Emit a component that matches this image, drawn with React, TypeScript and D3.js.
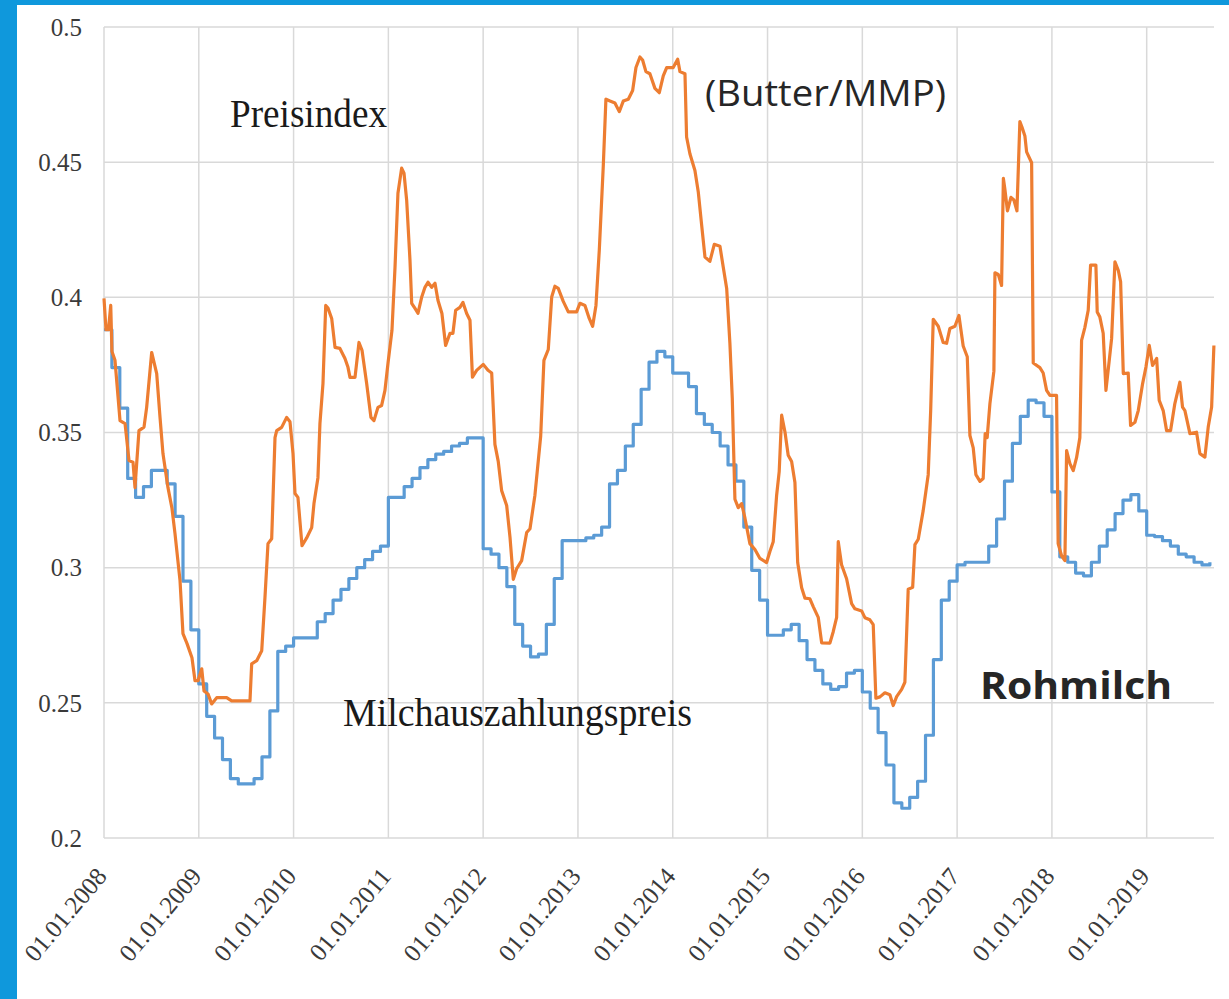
import React, { useEffect, useRef } from 'react'
import * as d3 from 'd3'

// Jahres-Ticks (01.01.) und Werteachse
const yearTicks = [2008, 2009, 2010, 2011, 2012, 2013, 2014, 2015, 2016, 2017, 2018, 2019]
const valueTicks = [0.2, 0.25, 0.3, 0.35, 0.4, 0.45, 0.5]

// Milchauszahlungspreis, monatlich ab Jan 2008
const milchpreis = [
    0.388, 0.374, 0.359, 0.333, 0.326, 0.330, 0.336, 0.336, 0.331, 0.319, 0.295, 0.277,
    0.257, 0.245, 0.237, 0.229, 0.222, 0.220, 0.220, 0.222, 0.230, 0.247, 0.269, 0.271,
    0.274, 0.274, 0.274, 0.280, 0.283, 0.288, 0.292, 0.296, 0.300, 0.303, 0.306, 0.308,
    0.326, 0.326, 0.330, 0.333, 0.337, 0.340, 0.342, 0.343, 0.345, 0.346, 0.348, 0.348,
    0.307, 0.305, 0.300, 0.293, 0.279, 0.271, 0.267, 0.268, 0.279, 0.296, 0.310, 0.310,
    0.310, 0.311, 0.312, 0.315, 0.331, 0.336, 0.345, 0.353, 0.366, 0.376, 0.380, 0.378,
    0.372, 0.372, 0.367, 0.357, 0.353, 0.350, 0.345, 0.338, 0.332, 0.315, 0.299, 0.288,
    0.275, 0.275, 0.277, 0.279, 0.273, 0.266, 0.262, 0.257, 0.255, 0.256, 0.261, 0.262,
    0.254, 0.248, 0.239, 0.227, 0.213, 0.211, 0.215, 0.221, 0.238, 0.266, 0.288, 0.295,
    0.301, 0.302, 0.302, 0.302, 0.308, 0.318, 0.332, 0.346, 0.356, 0.362, 0.361, 0.356,
    0.328, 0.304, 0.302, 0.298, 0.297, 0.302, 0.308, 0.314, 0.320, 0.325, 0.327, 0.321,
    0.312, 0.3115, 0.310, 0.308, 0.305, 0.304, 0.302, 0.301, 0.302,
]

// Preisindex (Butter/MMP): Zeitpunkte als Dezimaljahr und Werte
const preisindexZeit = [
    2008.000, 2008.021, 2008.047, 2008.071, 2008.084, 2008.116, 2008.169, 2008.222, 2008.264, 2008.306,
    2008.327, 2008.369, 2008.422, 2008.450, 2008.503, 2008.556, 2008.591, 2008.622, 2008.675, 2008.717,
    2008.749, 2008.802, 2008.833, 2008.876, 2008.928, 2008.960, 2008.992, 2009.031, 2009.055, 2009.097,
    2009.136, 2009.189, 2009.294, 2009.347, 2009.540, 2009.558, 2009.611, 2009.664, 2009.698, 2009.730,
    2009.769, 2009.804, 2009.822, 2009.874, 2009.927, 2009.962, 2009.994, 2010.015, 2010.046, 2010.089,
    2010.138, 2010.191, 2010.215, 2010.257, 2010.278, 2010.310, 2010.339, 2010.363, 2010.402, 2010.437,
    2010.489, 2010.542, 2010.574, 2010.595, 2010.648, 2010.690, 2010.722, 2010.771, 2010.816, 2010.848,
    2010.890, 2010.929, 2010.964, 2010.996, 2011.038, 2011.070, 2011.101, 2011.140, 2011.165, 2011.193,
    2011.228, 2011.246, 2011.281, 2011.312, 2011.351, 2011.386, 2011.418, 2011.457, 2011.492, 2011.523,
    2011.565, 2011.604, 2011.650, 2011.681, 2011.710, 2011.755, 2011.787, 2011.826, 2011.861, 2011.887,
    2011.931, 2012.001, 2012.051, 2012.090, 2012.124, 2012.159, 2012.195, 2012.248, 2012.283, 2012.318,
    2012.353, 2012.406, 2012.459, 2012.494, 2012.546, 2012.607, 2012.641, 2012.687, 2012.723, 2012.757,
    2012.792, 2012.845, 2012.898, 2012.986, 2013.021, 2013.074, 2013.119, 2013.155, 2013.190, 2013.225,
    2013.267, 2013.295, 2013.338, 2013.390, 2013.436, 2013.478, 2013.531, 2013.577, 2013.612, 2013.654,
    2013.682, 2013.717, 2013.759, 2013.812, 2013.858, 2013.900, 2013.936, 2014.005, 2014.052, 2014.076,
    2014.129, 2014.146, 2014.181, 2014.234, 2014.269, 2014.305, 2014.340, 2014.392, 2014.438, 2014.498,
    2014.533, 2014.569, 2014.603, 2014.628, 2014.656, 2014.691, 2014.727, 2014.762, 2014.814, 2014.867,
    2014.920, 2014.990, 2015.025, 2015.060, 2015.096, 2015.123, 2015.149, 2015.184, 2015.218, 2015.254,
    2015.289, 2015.318, 2015.360, 2015.395, 2015.447, 2015.482, 2015.535, 2015.571, 2015.658, 2015.693,
    2015.729, 2015.746, 2015.781, 2015.834, 2015.887, 2015.922, 2015.993, 2016.027, 2016.080, 2016.115,
    2016.143, 2016.186, 2016.238, 2016.291, 2016.326, 2016.362, 2016.415, 2016.449, 2016.484, 2016.531,
    2016.555, 2016.590, 2016.642, 2016.695, 2016.721, 2016.748, 2016.801, 2016.853, 2016.889, 2016.924,
    2016.977, 2017.019, 2017.064, 2017.107, 2017.135, 2017.170, 2017.198, 2017.241, 2017.275, 2017.296,
    2017.317, 2017.346, 2017.388, 2017.399, 2017.434, 2017.469, 2017.488, 2017.504, 2017.531, 2017.568,
    2017.599, 2017.631, 2017.662, 2017.684, 2017.715, 2017.733, 2017.786, 2017.803, 2017.873, 2017.908,
    2017.944, 2017.979, 2018.049, 2018.066, 2018.102, 2018.137, 2018.155, 2018.190, 2018.225, 2018.260,
    2018.295, 2018.313, 2018.348, 2018.383, 2018.408, 2018.464, 2018.478, 2018.506, 2018.541, 2018.570,
    2018.605, 2018.630, 2018.665, 2018.700, 2018.725, 2018.753, 2018.805, 2018.830, 2018.876, 2018.911,
    2018.957, 2018.992, 2019.027, 2019.062, 2019.105, 2019.132, 2019.174, 2019.210, 2019.252, 2019.297,
    2019.350, 2019.378, 2019.403, 2019.456, 2019.526, 2019.561, 2019.614, 2019.649, 2019.685, 2019.709,
]
const preisindexWert = [
    0.3996, 0.388, 0.388, 0.397, 0.380, 0.3767, 0.3544, 0.3533, 0.3396, 0.339,
    0.3296, 0.3507, 0.352, 0.3593, 0.3796, 0.3718, 0.3556, 0.3422, 0.3296, 0.322,
    0.3126, 0.2952, 0.2756, 0.2719, 0.2667, 0.2582, 0.2582, 0.2626, 0.2544, 0.2533,
    0.2496, 0.2519, 0.2519, 0.2507, 0.2507, 0.2644, 0.2656, 0.2693, 0.2889, 0.3089,
    0.3107, 0.3481, 0.3507, 0.3519, 0.3556, 0.354, 0.3422, 0.3274, 0.326, 0.3081,
    0.311, 0.3148, 0.3237, 0.3333, 0.3533, 0.3681, 0.397, 0.396, 0.3922, 0.3815,
    0.3811, 0.3774, 0.3741, 0.3704, 0.3704, 0.3833, 0.3804, 0.3681, 0.3556, 0.3544,
    0.3593, 0.360, 0.3656, 0.3756, 0.3878, 0.4111, 0.4385, 0.4478, 0.4459, 0.4359,
    0.4137, 0.3978, 0.3959, 0.3941, 0.400, 0.4037, 0.4056, 0.4037, 0.4052, 0.3989,
    0.394, 0.3822, 0.3867, 0.3867, 0.3952, 0.3963, 0.3981, 0.394, 0.3915, 0.3705,
    0.373, 0.3752, 0.373, 0.372, 0.3456, 0.3393, 0.3285, 0.323, 0.3113, 0.2957,
    0.2996, 0.3026, 0.313, 0.3144, 0.3268, 0.3487, 0.3767, 0.3807, 0.4001, 0.4041,
    0.4033, 0.3985, 0.3946, 0.3946, 0.3978, 0.397, 0.3922, 0.3893, 0.397, 0.4174,
    0.4485, 0.4733, 0.4726, 0.4719, 0.4687, 0.4726, 0.4733, 0.4765, 0.485, 0.4889,
    0.4878, 0.4835, 0.4827, 0.4773, 0.4757, 0.4819, 0.485, 0.485, 0.4881, 0.4835,
    0.4827, 0.4593, 0.4531, 0.4469, 0.4391, 0.4267, 0.4149, 0.4133, 0.4196, 0.4189,
    0.4111, 0.4033, 0.383, 0.3627, 0.3253, 0.3222, 0.3237, 0.3183, 0.3089, 0.3067,
    0.3034, 0.3019, 0.306, 0.3096, 0.3268, 0.3355, 0.3564, 0.3502, 0.3416, 0.3393,
    0.3315, 0.3019, 0.2926, 0.2887, 0.2885, 0.2856, 0.2816, 0.2722, 0.2721, 0.2763,
    0.2816, 0.3096, 0.3011, 0.2959, 0.2867, 0.2848, 0.284, 0.2815, 0.2807, 0.2789,
    0.2517, 0.2522, 0.2537, 0.253, 0.249, 0.2523, 0.255, 0.2576, 0.292, 0.2927,
    0.3085, 0.3105, 0.3211, 0.3344, 0.3581, 0.3919, 0.3893, 0.3833, 0.383, 0.3885,
    0.3893, 0.3933, 0.382, 0.378, 0.3489, 0.3443, 0.3344, 0.3319, 0.333, 0.3496,
    0.3481, 0.3607, 0.3727, 0.4091, 0.4085, 0.4044, 0.444, 0.440, 0.432, 0.437,
    0.436, 0.432, 0.465, 0.463, 0.4597, 0.4538, 0.4498, 0.3757, 0.374, 0.372,
    0.3656, 0.3637, 0.3637, 0.3089, 0.3044, 0.3026, 0.3433, 0.3385, 0.3359, 0.3407,
    0.3481, 0.3841, 0.3889, 0.3952, 0.4119, 0.4119, 0.3946, 0.3927, 0.3867, 0.3656,
    0.3767, 0.3848, 0.4131, 0.410, 0.4057, 0.3718, 0.372, 0.3526, 0.3538, 0.3581,
    0.3681, 0.3742, 0.3822, 0.3748, 0.3774, 0.3619, 0.3581, 0.3507, 0.3507, 0.3607,
    0.3686, 0.3594, 0.3581, 0.3496, 0.3501, 0.3422, 0.3409, 0.352, 0.3594, 0.3822,
]

const W = 1229
const H = 999

const App = () => {
    const svgRef = useRef(null)

    useEffect(() => {
        const svg = d3.select(svgRef.current)
        svg.selectAll('*').remove()

        const x = d3.scaleLinear().domain([2008, 2019.71]).range([104, 1214])
        const y = d3.scaleLinear().domain([0.2, 0.5]).range([838, 27])
        const serif = '"Liberation Serif", "DejaVu Serif", serif'
        const sans = '"Open Sans", "Noto Sans", sans-serif'

        // Hintergrund + blauer Rahmen
        svg.append('rect').attr('width', W).attr('height', H).attr('fill', '#fff')
        svg.append('rect').attr('x', 0).attr('y', 0).attr('width', 17).attr('height', H).attr('fill', '#0f98dc')
        svg.append('rect').attr('x', 0).attr('y', 0).attr('width', W).attr('height', 5).attr('fill', '#0f98dc')

        // Gitter
        svg.selectAll('.hgrid')
            .data(valueTicks)
            .enter()
            .append('line')
            .attr('x1', x(2008)).attr('x2', x(2019.71))
            .attr('y1', d => y(d)).attr('y2', d => y(d))
            .attr('stroke', '#d9d9d9')
            .attr('stroke-width', 1.5)

        svg.selectAll('.vgrid')
            .data(yearTicks)
            .enter()
            .append('line')
            .attr('x1', d => x(d)).attr('x2', d => x(d))
            .attr('y1', y(0.5)).attr('y2', y(0.2))
            .attr('stroke', '#d9d9d9')
            .attr('stroke-width', 1.5)

        // Achsenbeschriftung
        svg.selectAll('.ylab')
            .data(valueTicks)
            .enter()
            .append('text')
            .attr('x', 82)
            .attr('y', d => y(d))
            .attr('dy', '0.35em')
            .attr('text-anchor', 'end')
            .attr('font-family', serif)
            .attr('font-size', 25)
            .attr('fill', '#3a3a3a')
            .text(d => d3.format('')(d))

        svg.selectAll('.xlab')
            .data(yearTicks)
            .enter()
            .append('text')
            .attr('transform', d => `translate(${x(d) + 4},877) rotate(-50)`)
            .attr('text-anchor', 'end')
            .attr('font-family', serif)
            .attr('font-size', 25)
            .attr('fill', '#3a3a3a')
            .text(d => `01.01.${d}`)

        // Milchauszahlungspreis (Stufen)
        const blueLine = d3.line()
            .x((d, i) => x(2008 + i / 12))
            .y(d => y(d))
            .curve(d3.curveStepAfter)

        svg.append('path')
            .datum(milchpreis)
            .attr('d', blueLine)
            .attr('fill', 'none')
            .attr('stroke', '#5b9bd5')
            .attr('stroke-width', 3.2)
            .attr('stroke-linejoin', 'round')

        // Preisindex
        const orangeLine = d3.line()
            .x((d, i) => x(preisindexZeit[i]))
            .y(d => y(d))

        svg.append('path')
            .datum(preisindexWert)
            .attr('d', orangeLine)
            .attr('fill', 'none')
            .attr('stroke', '#ed7d31')
            .attr('stroke-width', 3.2)
            .attr('stroke-linejoin', 'round')

        // Beschriftungen im Diagramm
        svg.append('text')
            .attr('x', 230).attr('y', 127)
            .attr('font-family', serif).attr('font-size', 40)
            .attr('textLength', 157).attr('lengthAdjust', 'spacingAndGlyphs')
            .attr('fill', '#1a1a1a')
            .text('Preisindex')

        svg.append('text')
            .attr('x', 343).attr('y', 726)
            .attr('font-family', serif).attr('font-size', 40)
            .attr('textLength', 349).attr('lengthAdjust', 'spacingAndGlyphs')
            .attr('fill', '#1a1a1a')
            .text('Milchauszahlungspreis')

        svg.append('text')
            .attr('x', 705).attr('y', 106)
            .attr('font-family', sans).attr('font-size', 36)
            .attr('textLength', 241).attr('lengthAdjust', 'spacingAndGlyphs')
            .attr('fill', '#262626')
            .text('(Butter/MMP)')

        svg.append('text')
            .attr('x', 980).attr('y', 699)
            .attr('font-family', sans).attr('font-size', 38)
            .attr('font-weight', 'bold')
            .attr('textLength', 192).attr('lengthAdjust', 'spacingAndGlyphs')
            .attr('fill', '#262626')
            .text('Rohmilch')
    }, [])

    return (
        <svg ref={svgRef} width={W} height={H} style={{ position: 'absolute', left: 0, top: 0 }}></svg>
    )
}

export default App
